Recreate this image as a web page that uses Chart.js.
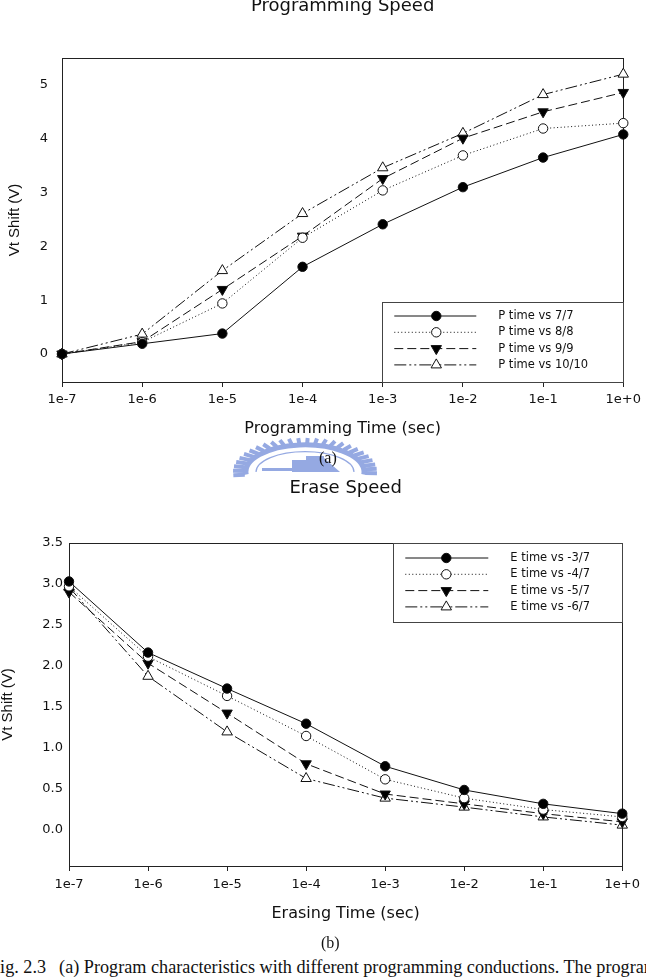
<!DOCTYPE html>
<html>
<head>
<meta charset="utf-8">
<script src="https://cdn.jsdelivr.net/npm/chart.js@4.4.0/dist/chart.umd.min.js"></script>
<style>
  html, body { margin: 0; padding: 0; background: #fff; }
  body { width: 646px; height: 978px; position: relative; overflow: hidden; }
  .wrap { position: absolute; left: 0; width: 646px; }
  #wrap1 { top: -20px; height: 457px; }
  #wrap2 { top: 470px; height: 452px; }
  #logo { position: absolute; left: 220px; top: 430px; }
  .lbl { position: absolute; font-family: "Liberation Serif", "Times New Roman", serif; color: #111; line-height: 1; white-space: nowrap; }
</style>
</head>
<body>
<div class="wrap" id="wrap1"><canvas id="progChart"></canvas></div>
<canvas id="logo" width="180" height="50"></canvas>
<div class="lbl" style="left:319px; top:450px; font-size:16px;">(a)</div>
<div class="wrap" id="wrap2"><canvas id="eraseChart"></canvas></div>
<div class="lbl" style="left:321px; top:935px; font-size:16px;">(b)</div>
<div class="lbl" style="left:-10px; top:958px; font-size:18.2px;">Fig. 2.3<span style="margin-left:13px">(a) Program characteristics with different programming conductions. The programming</span></div>

<script>
// x values (seconds) shared by both plots
const times = [1e-7, 1e-6, 1e-5, 1e-4, 1e-3, 1e-2, 1e-1, 1];

// (a) programming speed, Vt shift (V)
const progLabels = ['P time vs 7/7', 'P time vs 8/8', 'P time vs 9/9', 'P time vs 10/10'];
const prog77 = [0, 0.19, 0.38, 1.62, 2.41, 3.10, 3.65, 4.08];
const prog88 = [0, 0.22, 0.94, 2.16, 3.04, 3.69, 4.19, 4.29];
const prog99 = [0, 0.23, 1.20, 2.19, 3.26, 4.01, 4.50, 4.86];
const prog1010 = [0, 0.37, 1.55, 2.61, 3.46, 4.10, 4.82, 5.20];
const progTicks = [0, 1, 2, 3, 4, 5];

// (b) erase speed, Vt shift (V)
const eraseLabels = ['E time vs -3/7', 'E time vs -4/7', 'E time vs -5/7', 'E time vs -6/7'];
const erase37 = [3.03, 2.16, 1.72, 1.29, 0.77, 0.48, 0.31, 0.19];
const erase47 = [2.97, 2.11, 1.63, 1.14, 0.61, 0.38, 0.24, 0.15];
const erase57 = [2.90, 2.03, 1.42, 0.80, 0.43, 0.31, 0.19, 0.09];
const erase67 = [2.96, 1.87, 1.19, 0.62, 0.38, 0.27, 0.15, 0.05];
const eraseTicks = [0, 0.5, 1, 1.5, 2, 2.5, 3, 3.5];

const sans = "'DejaVu Sans', sans-serif";
const arial = "'Liberation Sans', Arial, sans-serif";
const ink = '#111';

Chart.defaults.font.family = sans;
Chart.defaults.color = ink;

// line / marker style per series position
const looks = [
  { dash: [], style: 'circle', fill: '#000', r: 4.7, rot: 0 },
  { dash: [1, 2.5], style: 'circle', fill: '#fff', r: 4.7, rot: 0 },
  { dash: [9, 4], style: 'triangle', fill: '#000', r: 6, rot: 180 },
  { dash: [12, 3, 2, 3, 2, 3], style: 'triangle', fill: '#fff', r: 6, rot: 0 }
];

function makeSets(labels, series) {
  return series.map((vals, i) => ({
    label: labels[i],
    data: times.map((t, j) => ({ x: t, y: vals[j] })),
    borderColor: ink,
    borderWidth: 1,
    borderDash: looks[i].dash,
    pointStyle: looks[i].style,
    pointRotation: looks[i].rot,
    pointRadius: looks[i].r,
    pointHoverRadius: looks[i].r,
    pointBackgroundColor: looks[i].fill,
    pointBorderColor: ink,
    pointBorderWidth: 1,
    tension: 0,
    clip: false
  }));
}

function expLabel(v) {
  const e = Math.round(Math.log10(v));
  return '1e' + (e >= 0 ? '+' : '') + e;
}

// full box around the plot area
const frame = {
  id: 'frame',
  beforeDatasetsDraw(chart) {
    const a = chart.chartArea, ctx = chart.ctx;
    ctx.save();
    ctx.strokeStyle = '#222';
    ctx.lineWidth = 1;
    ctx.strokeRect(Math.round(a.left) + 0.5, Math.round(a.top) + 0.5,
      Math.round(a.right - a.left), Math.round(a.bottom - a.top));
    ctx.restore();
  }
};

// legend drawn inside the plot, in a bordered box
const boxLegend = {
  id: 'boxLegend',
  afterDatasetsDraw(chart, args, o) {
    const a = chart.chartArea, ctx = chart.ctx;
    const bx = a.right - o.width;
    const by = o.corner === 'top' ? a.top : a.bottom - o.height;
    ctx.save();
    ctx.fillStyle = '#fff';
    ctx.fillRect(bx, by, o.width, o.height);
    ctx.strokeStyle = '#444';
    ctx.lineWidth = 1;
    ctx.strokeRect(Math.round(bx) + 0.5, Math.round(by) + 0.5, Math.round(o.width), Math.round(o.height));
    chart.data.datasets.forEach((ds, i) => {
      const y = by + o.firstRow + i * o.rowGap;
      ctx.strokeStyle = ink;
      ctx.setLineDash(ds.borderDash);
      ctx.beginPath();
      ctx.moveTo(bx + o.lineStart, y);
      ctx.lineTo(bx + o.lineEnd, y);
      ctx.stroke();
      ctx.setLineDash([]);
      ctx.fillStyle = ds.pointBackgroundColor;
      Chart.helpers.drawPoint(ctx, {
        pointStyle: ds.pointStyle, rotation: ds.pointRotation,
        radius: ds.pointRadius, borderWidth: 1
      }, bx + o.markAt, y);
      ctx.fillStyle = ink;
      ctx.font = '11.5px ' + sans;
      ctx.textBaseline = 'middle';
      ctx.textAlign = 'left';
      ctx.fillText(ds.label, bx + o.textAt, y);
    });
    ctx.restore();
  }
};

function makeChart(id, cfg) {
  return new Chart(document.getElementById(id), {
    type: 'line',
    data: { datasets: makeSets(cfg.labels, cfg.series) },
    plugins: [frame, boxLegend],
    options: {
      responsive: true,
      maintainAspectRatio: false,
      animation: false,
      layout: { padding: { left: 0, right: cfg.padRight, top: 0, bottom: 0 } },
      plugins: {
        legend: { display: false },
        tooltip: { enabled: false },
        title: {
          display: true, text: cfg.title, fullSize: false, color: ink,
          font: { family: sans, size: 18, weight: 'normal', lineHeight: 1 },
          padding: cfg.titlePad
        },
        boxLegend: cfg.legend
      },
      scales: {
        x: {
          type: 'logarithmic', min: times[0], max: times[times.length - 1],
          afterBuildTicks: s => { s.ticks = times.map(v => ({ value: v })); },
          afterFit: s => { s.height = cfg.xHeight; },
          grid: { display: true, drawOnChartArea: false, drawTicks: true, tickLength: 5, color: '#222' },
          border: { display: true, color: '#222' },
          ticks: { callback: expLabel, autoSkip: false, maxRotation: 0, padding: cfg.xTickPad, color: ink, font: { size: 13 } },
          title: { display: true, text: cfg.xTitle, color: ink, font: { family: sans, size: 16, lineHeight: 1 }, padding: { top: 0, bottom: cfg.xTitlePad } }
        },
        y: {
          type: 'linear', min: cfg.yMin, max: cfg.yMax,
          afterBuildTicks: s => { s.ticks = cfg.yTicks.map(v => ({ value: v })); },
          afterFit: s => { s.width = cfg.yWidth; },
          grid: { display: false, drawTicks: false },
          border: { display: true, color: '#222' },
          ticks: { callback: cfg.yFmt, padding: cfg.yTickPad, color: ink, font: { size: 13 } },
          title: { display: true, text: 'Vt Shift (V)', color: ink, font: { family: arial, size: 15, lineHeight: 1 }, padding: { top: cfg.yTitlePad, bottom: 0 } }
        }
      }
    }
  });
}

makeChart('progChart', {
  title: 'Programming Speed',
  titlePad: { top: 17, bottom: 43 },
  labels: progLabels,
  series: [prog77, prog88, prog99, prog1010],
  xTitle: 'Programming Time (sec)',
  xHeight: 55, xTickPad: 5, xTitlePad: 0,
  yMin: -0.52, yMax: 5.5, yTicks: progTicks, yFmt: v => String(v),
  yWidth: 62, yTickPad: 14, yTitlePad: 7.5,
  padRight: 22,
  legend: { corner: 'bottom', width: 241, height: 80, firstRow: 14, rowGap: 16.3, lineStart: 12, lineEnd: 94, markAt: 54, textAt: 116 }
});

makeChart('eraseChart', {
  title: 'Erase Speed',
  titlePad: { top: 9, bottom: 46 },
  labels: eraseLabels,
  series: [erase37, erase47, erase57, erase67],
  xTitle: 'Erasing Time (sec)',
  xHeight: 56, xTickPad: 6, xTitlePad: 0,
  yMin: -0.45, yMax: 3.5, yTicks: eraseTicks, yFmt: v => v.toFixed(1),
  yWidth: 69, yTickPad: 6, yTitlePad: 0.5,
  padRight: 16,
  legend: { corner: 'top', width: 229, height: 79, firstRow: 15, rowGap: 16.3, lineStart: 12, lineEnd: 95, markAt: 53, textAt: 117 }
});

// faint watermark behind "(a)"
(function drawLogo() {
  const ctx = document.getElementById('logo').getContext('2d');
  const cx = 85, cy = 42, rx = 72, ry = 34;
  const col = '#95a9e2';
  ctx.strokeStyle = col;
  ctx.fillStyle = col;
  ctx.lineWidth = 4;
  for (let a = Math.PI * 0.97; a <= Math.PI * 2.03; a += Math.PI / 24) {
    ctx.beginPath();
    ctx.moveTo(cx + rx * 0.84 * Math.cos(a), cy + ry * 0.84 * Math.sin(a));
    ctx.lineTo(cx + rx * Math.cos(a), cy + ry * Math.sin(a));
    ctx.stroke();
  }
  ctx.lineWidth = 5;
  ctx.beginPath();
  ctx.ellipse(cx, cy, rx * 0.82, ry * 0.8, 0, Math.PI * 0.97, Math.PI * 2.03);
  ctx.stroke();
  ctx.lineWidth = 1.2;
  ctx.beginPath();
  ctx.ellipse(cx, cy, rx * 0.68, ry * 0.6, 0, Math.PI, Math.PI * 2);
  ctx.stroke();
  ctx.fillRect(42, 38, 30, 3);
  ctx.fillRect(72, 30, 14, 12);
  ctx.fillRect(86, 26, 18, 16);
  ctx.beginPath();
  ctx.moveTo(104, 42); ctx.lineTo(104, 28); ctx.lineTo(120, 42); ctx.closePath();
  ctx.fill();
})();
</script>
</body>
</html>
